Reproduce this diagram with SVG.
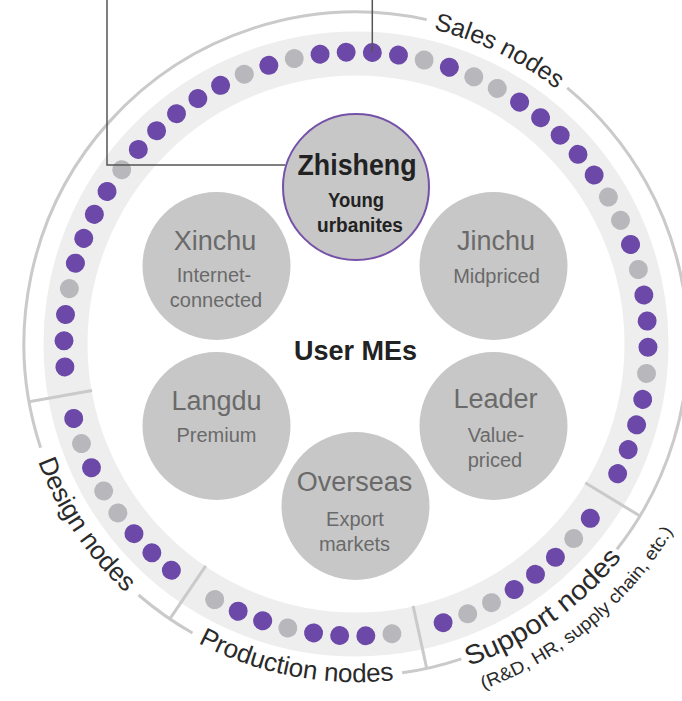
<svg xmlns="http://www.w3.org/2000/svg" xmlns:xlink="http://www.w3.org/1999/xlink" width="682" height="701" viewBox="0 0 682 701">
<style>
.band{fill:none;stroke:#eeeeee;stroke-width:44}
.ring{fill:none;stroke:#cacaca;stroke-width:3}
.div{stroke:#cacaca;stroke-width:3}
.p{fill:#6c48a8}
.g{fill:#b8b8bc}
.node{fill:#c7c7c7}
.t{font-family:"Liberation Sans",Arial,sans-serif;fill:#6a6a6a;text-anchor:middle}
.big{font-size:27px}
.sub{font-size:20px}
.bold{font-family:"Liberation Sans",Arial,sans-serif;font-weight:bold;fill:#222;text-anchor:middle}
.lbl{font-family:"Liberation Sans",Arial,sans-serif;fill:#2a2a2a;text-anchor:middle}
.conn{stroke:#555;stroke-width:1.5;fill:none}
</style>
<defs>
<path id="cwS" d="M 680 344 A 324 324 0 1 1 32 344 A 324 324 0 1 1 680 344"/>
<path id="ccwD" d="M 695 344 A 339 339 0 1 0 17 344 A 339 339 0 1 0 695 344"/>
<path id="ccwP" d="M 694 344 A 338 338 0 1 0 18 344 A 338 338 0 1 0 694 344"/>
<path id="ccwU" d="M 697 344 A 341 341 0 1 0 15 344 A 341 341 0 1 0 697 344"/>
<path id="ccwR" d="M 724 344 A 368 368 0 1 0 -12 344 A 368 368 0 1 0 724 344"/>
</defs>

<g id="ring">
<circle class="band" cx="356" cy="344" r="290.5"/>
<path class="ring" d="M 40.6 447.7 A 332 332 0 0 1 426.7 19.6"/>
<path class="ring" d="M 567.2 87.8 A 332 332 0 0 1 616.9 549.3"/>
<path class="ring" d="M 461.3 658.8 A 332 332 0 0 1 402.2 672.8"/>
<path class="ring" d="M 192.5 633 A 332 332 0 0 1 138.6 595"/>
<line class="div" x1="624" y1="344" x2="688" y2="344" transform="rotate(31.2 356 344)"/>
<line class="div" x1="624" y1="344" x2="688" y2="344" transform="rotate(77.7 356 344)"/>
<line class="div" x1="624" y1="344" x2="688" y2="344" transform="rotate(124.1 356 344)"/>
<line class="div" x1="624" y1="344" x2="688" y2="344" transform="rotate(170 356 344)"/>
</g>

<g id="sales-dots">
<circle class="p" cx="648" cy="344" r="9.5" transform="rotate(175.5 356 344)"/>
<circle class="p" cx="648" cy="344" r="9.5" transform="rotate(180.64 356 344)"/>
<circle class="p" cx="648" cy="344" r="9.5" transform="rotate(185.79 356 344)"/>
<circle class="g" cx="648" cy="344" r="9.5" transform="rotate(190.93 356 344)"/>
<circle class="p" cx="648" cy="344" r="9.5" transform="rotate(196.07 356 344)"/>
<circle class="p" cx="648" cy="344" r="9.5" transform="rotate(201.21 356 344)"/>
<circle class="p" cx="648" cy="344" r="9.5" transform="rotate(206.36 356 344)"/>
<circle class="p" cx="648" cy="344" r="9.5" transform="rotate(211.5 356 344)"/>
<circle class="g" cx="648" cy="344" r="9.5" transform="rotate(216.64 356 344)"/>
<circle class="p" cx="648" cy="344" r="9.5" transform="rotate(221.79 356 344)"/>
<circle class="p" cx="648" cy="344" r="9.5" transform="rotate(226.93 356 344)"/>
<circle class="p" cx="648" cy="344" r="9.5" transform="rotate(232.07 356 344)"/>
<circle class="p" cx="648" cy="344" r="9.5" transform="rotate(237.21 356 344)"/>
<circle class="p" cx="648" cy="344" r="9.5" transform="rotate(242.36 356 344)"/>
<circle class="g" cx="648" cy="344" r="9.5" transform="rotate(247.5 356 344)"/>
<circle class="p" cx="648" cy="344" r="9.5" transform="rotate(252.64 356 344)"/>
<circle class="g" cx="648" cy="344" r="9.5" transform="rotate(257.79 356 344)"/>
<circle class="p" cx="648" cy="344" r="9.5" transform="rotate(262.93 356 344)"/>
<circle class="p" cx="648" cy="344" r="9.5" transform="rotate(268.07 356 344)"/>
<circle class="p" cx="648" cy="344" r="9.5" transform="rotate(273.21 356 344)"/>
<circle class="p" cx="648" cy="344" r="9.5" transform="rotate(278.36 356 344)"/>
<circle class="g" cx="648" cy="344" r="9.5" transform="rotate(283.5 356 344)"/>
<circle class="p" cx="648" cy="344" r="9.5" transform="rotate(288.64 356 344)"/>
<circle class="g" cx="648" cy="344" r="9.5" transform="rotate(293.79 356 344)"/>
<circle class="g" cx="648" cy="344" r="9.5" transform="rotate(298.93 356 344)"/>
<circle class="p" cx="648" cy="344" r="9.5" transform="rotate(304.07 356 344)"/>
<circle class="p" cx="648" cy="344" r="9.5" transform="rotate(309.21 356 344)"/>
<circle class="p" cx="648" cy="344" r="9.5" transform="rotate(314.36 356 344)"/>
<circle class="p" cx="648" cy="344" r="9.5" transform="rotate(319.5 356 344)"/>
<circle class="p" cx="648" cy="344" r="9.5" transform="rotate(324.64 356 344)"/>
<circle class="g" cx="648" cy="344" r="9.5" transform="rotate(329.79 356 344)"/>
<circle class="g" cx="648" cy="344" r="9.5" transform="rotate(334.93 356 344)"/>
<circle class="p" cx="648" cy="344" r="9.5" transform="rotate(340.07 356 344)"/>
<circle class="g" cx="648" cy="344" r="9.5" transform="rotate(345.21 356 344)"/>
<circle class="p" cx="648" cy="344" r="9.5" transform="rotate(350.36 356 344)"/>
<circle class="p" cx="648" cy="344" r="9.5" transform="rotate(355.5 356 344)"/>
<circle class="p" cx="648" cy="344" r="9.5" transform="rotate(0.64 356 344)"/>
<circle class="g" cx="648" cy="344" r="9.5" transform="rotate(5.79 356 344)"/>
<circle class="p" cx="648" cy="344" r="9.5" transform="rotate(10.93 356 344)"/>
<circle class="p" cx="648" cy="344" r="9.5" transform="rotate(16.07 356 344)"/>
<circle class="p" cx="648" cy="344" r="9.5" transform="rotate(21.21 356 344)"/>
<circle class="p" cx="648" cy="344" r="9.5" transform="rotate(26.36 356 344)"/>
</g>
<g id="support-dots">
<circle class="p" cx="648" cy="344" r="9.5" transform="rotate(36.64 356 344)"/>
<circle class="g" cx="648" cy="344" r="9.5" transform="rotate(41.79 356 344)"/>
<circle class="p" cx="648" cy="344" r="9.5" transform="rotate(46.93 356 344)"/>
<circle class="p" cx="648" cy="344" r="9.5" transform="rotate(52.07 356 344)"/>
<circle class="p" cx="648" cy="344" r="9.5" transform="rotate(57.21 356 344)"/>
<circle class="g" cx="648" cy="344" r="9.5" transform="rotate(62.36 356 344)"/>
<circle class="g" cx="648" cy="344" r="9.5" transform="rotate(67.5 356 344)"/>
<circle class="p" cx="648" cy="344" r="9.5" transform="rotate(72.64 356 344)"/>
</g>
<g id="production-dots">
<circle class="g" cx="648" cy="344" r="9.5" transform="rotate(82.93 356 344)"/>
<circle class="p" cx="648" cy="344" r="9.5" transform="rotate(88.07 356 344)"/>
<circle class="p" cx="648" cy="344" r="9.5" transform="rotate(93.21 356 344)"/>
<circle class="p" cx="648" cy="344" r="9.5" transform="rotate(98.36 356 344)"/>
<circle class="g" cx="648" cy="344" r="9.5" transform="rotate(103.5 356 344)"/>
<circle class="p" cx="648" cy="344" r="9.5" transform="rotate(108.64 356 344)"/>
<circle class="p" cx="648" cy="344" r="9.5" transform="rotate(113.79 356 344)"/>
<circle class="g" cx="648" cy="344" r="9.5" transform="rotate(118.93 356 344)"/>
</g>
<g id="design-dots">
<circle class="p" cx="648" cy="344" r="9.5" transform="rotate(129.21 356 344)"/>
<circle class="p" cx="648" cy="344" r="9.5" transform="rotate(134.36 356 344)"/>
<circle class="p" cx="648" cy="344" r="9.5" transform="rotate(139.5 356 344)"/>
<circle class="g" cx="648" cy="344" r="9.5" transform="rotate(144.64 356 344)"/>
<circle class="g" cx="648" cy="344" r="9.5" transform="rotate(149.79 356 344)"/>
<circle class="p" cx="648" cy="344" r="9.5" transform="rotate(154.93 356 344)"/>
<circle class="g" cx="648" cy="344" r="9.5" transform="rotate(160.07 356 344)"/>
<circle class="p" cx="648" cy="344" r="9.5" transform="rotate(165.21 356 344)"/>
</g>

<g id="ring-labels">
<text class="lbl" font-size="25"><textPath xlink:href="#cwS" href="#cwS" startOffset="1673.3">Sales nodes</textPath></text>
<text class="lbl" font-size="26"><textPath xlink:href="#ccwD" href="#ccwD" startOffset="1264.1">Design nodes</textPath></text>
<text class="lbl" font-size="26"><textPath xlink:href="#ccwP" href="#ccwP" startOffset="1529.4">Production nodes</textPath></text>
<text class="lbl" font-size="27"><textPath xlink:href="#ccwU" href="#ccwU" startOffset="1816.1" textLength="190" lengthAdjust="spacingAndGlyphs">Support nodes</textPath></text>
<text class="lbl" font-size="18"><textPath xlink:href="#ccwR" href="#ccwR" startOffset="1989.5" textLength="252" lengthAdjust="spacingAndGlyphs">(R&amp;D, HR, supply chain, etc.)</textPath></text>
</g>

<g id="connectors">
<polyline class="conn" points="107,0 107,165 285,165"/>
<line class="conn" x1="372.3" y1="0" x2="372.3" y2="52"/>
</g>

<g id="zhisheng">
<circle cx="356" cy="187" r="73" fill="#c7c7c7" stroke="#7552a8" stroke-width="2"/>
<text class="bold" x="357" y="175" font-size="29" textLength="119" lengthAdjust="spacingAndGlyphs">Zhisheng</text>
<text class="bold" x="356" y="207" font-size="20" textLength="56" lengthAdjust="spacingAndGlyphs">Young</text>
<text class="bold" x="360" y="232" font-size="20" textLength="86" lengthAdjust="spacingAndGlyphs">urbanites</text>
</g>
<g id="xinchu">
<circle class="node" cx="216.5" cy="266" r="74"/>
<text class="t big" x="215" y="250">Xinchu</text>
<text class="t sub" x="214" y="282">Internet-</text>
<text class="t sub" x="216" y="307">connected</text>
</g>
<g id="jinchu">
<circle class="node" cx="493.5" cy="266" r="74"/>
<text class="t big" x="496" y="250">Jinchu</text>
<text class="t sub" x="496.5" y="283">Midpriced</text>
</g>
<g id="langdu">
<circle class="node" cx="216.5" cy="426" r="74"/>
<text class="t big" x="216.5" y="410">Langdu</text>
<text class="t sub" x="216.5" y="442">Premium</text>
</g>
<g id="leader">
<circle class="node" cx="493.5" cy="426" r="74"/>
<text class="t big" x="495.5" y="408">Leader</text>
<text class="t sub" x="496" y="442">Value-</text>
<text class="t sub" x="495" y="467">priced</text>
</g>
<g id="overseas">
<circle class="node" cx="355.5" cy="506" r="74"/>
<text class="t big" x="354.5" y="491">Overseas</text>
<text class="t sub" x="355" y="526">Export</text>
<text class="t sub" x="354.5" y="551">markets</text>
</g>
<g id="center">
<text class="bold" x="355.5" y="360" font-size="27">User MEs</text>
</g>
</svg>
